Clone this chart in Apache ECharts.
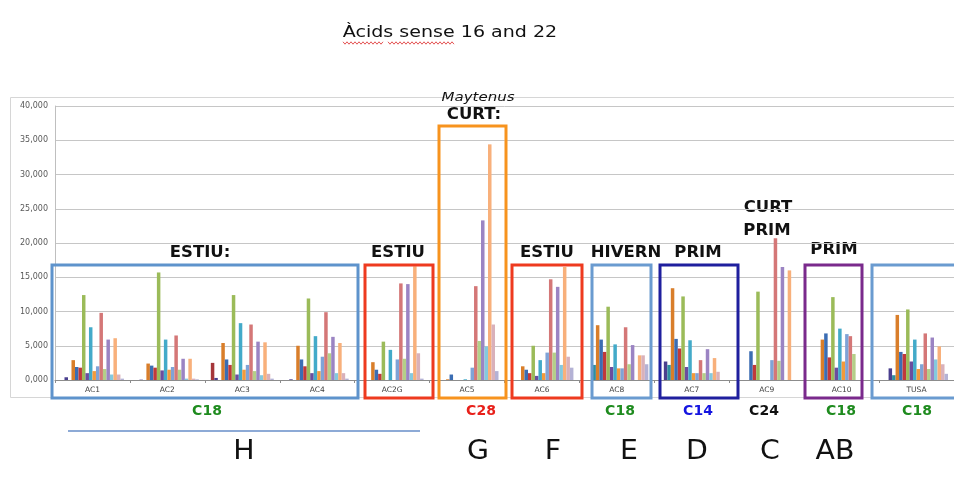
<!DOCTYPE html>
<html>
<head>
<meta charset="utf-8">
<script src="https://cdn.jsdelivr.net/npm/echarts@6/dist/echarts.min.js"></script>
<style>
html,body{margin:0;padding:0;background:#fff;}
#c{width:954px;height:481px;}
</style>
</head>
<body>
<div id="c"></div>
<script>
// ---------- DATA ----------
const categories = ['AC1','AC2','AC3','AC4','AC2G','AC5','AC6','AC8','AC7','AC9','AC10','TUSA'];
const yTickLabels = ['0,000','5,000','10,000','15,000','20,000','25,000','30,000','35,000','40,000'];

const sDarkRed    = [0,0,2500,0,0,0,0,0,0,0,0,0];
const sNavy       = [400,50,300,100,0,0,0,0,2700,0,0,1700];
const sTeal       = [0,0,0,0,0,0,0,2200,2200,0,0,700];
const sOrange     = [2900,2400,5400,5000,2600,100,2000,8000,13400,0,5900,9500];
const sBlue       = [1900,2100,3000,3000,1500,800,1500,5900,6000,4200,6800,4100];
const sRed        = [1800,1800,2200,2000,900,0,1000,4100,4600,2200,3300,3800];
const sGreen      = [12400,15700,12400,11900,5600,0,5000,10700,12200,12900,12100,10300];
const sPurple     = [1000,1400,800,1000,0,0,600,1900,1900,0,1800,2700];
const sCyan       = [7700,5900,8300,6400,4400,100,2900,5200,5800,0,7500,5900];
const sOrange2    = [1300,1500,1500,1300,0,0,1000,1700,1000,0,2700,1600];
const sLightBlue  = [2000,1900,2200,3400,3000,1800,4000,1700,1000,2900,6700,2300];
const sRose       = [9800,6500,8100,9900,14100,13700,14700,7700,2900,20700,6400,6800];
const sLightGreen = [1600,1500,1300,3900,3100,5700,4000,2300,1000,2800,3800,1600];
const sLavender   = [5900,3100,5600,6300,14000,23300,13600,5100,4500,16500,0,6200];
const sLightCyan  = [800,200,700,1000,1000,4900,2200,0,1000,0,0,3000];
const sLightOrange= [6100,3100,5500,5400,16600,34400,16500,3600,3200,16000,0,4900];
const sMauve      = [800,200,900,1000,3900,8100,3400,3600,1200,0,0,2300];
const sLightLav   = [200,100,200,200,200,1300,1800,2300,0,0,0,900];

const seriesData = [sDarkRed,sNavy,sTeal,sOrange,sBlue,sRed,sGreen,sPurple,sCyan,sOrange2,
                    sLightBlue,sRose,sLightGreen,sLavender,sLightCyan,sLightOrange,sMauve,sLightLav];

// ---------- STYLES ----------
const seriesColors = ['#A5363A','#4A3F8F','#2F8FA0','#D97E2A','#3B6DB3','#C0393B','#9BBB59','#6B4D9E','#43AAC9',
                      '#F39A3B','#7FA3D7','#D47777','#B4CF88','#9B84C3','#84C9DE','#F8B07B','#D9B1BA','#B4B2D5'];

const FONT = '"DejaVu Sans", sans-serif';

// annotation boxes (pixel overlay)
const boxes = [
  {x1:52, x2:358, y1:265, color:'#5E93CC'},
  {x1:365, x2:433, y1:265, color:'#EE3A1F'},
  {x1:439, x2:506, y1:126, color:'#F7931E'},
  {x1:512, x2:582, y1:265, color:'#EE3A1F'},
  {x1:592, x2:651, y1:265, color:'#6A9BD0'},
  {x1:660, x2:738, y1:265, color:'#1F1F9E'},
  {x1:805, x2:862, y1:265, color:'#7A2A8C'},
  {x1:872, x2:970, y1:265, color:'#6A9BD0'}
];
const boxBottom = 398;

const topLabels = [
  {t:'ESTIU:', x:200, y:253},
  {t:'ESTIU', x:398, y:253},
  {t:'CURT:', x:474, y:115},
  {t:'ESTIU', x:547, y:253},
  {t:'HIVERN', x:626, y:253},
  {t:'PRIM', x:698, y:253},
  {t:'CURT', x:768, y:208},
  {t:'PRIM', x:767, y:231},
  {t:'PRIM', x:834, y:250}
];
const chainLabels = [
  {t:'C18', x:207, c:'#1E8B1E'},
  {t:'C28', x:481, c:'#E8201A'},
  {t:'C18', x:620, c:'#1E8B1E'},
  {t:'C14', x:698, c:'#1515E0'},
  {t:'C24', x:764, c:'#111111'},
  {t:'C18', x:841, c:'#1E8B1E'},
  {t:'C18', x:917, c:'#1E8B1E'}
];
const groupLetters = [
  {t:'H', x:244}, {t:'G', x:478}, {t:'F', x:553}, {t:'E', x:629},
  {t:'D', x:697}, {t:'C', x:770}, {t:'AB', x:835}
];

function stext(text, x, y, size, opts) {
  opts = opts || {};
  return {
    type:'group', x:x, y:y, scaleX: opts.scaleX || 1, z: 100,
    children:[{
      type:'text', x:0, y:0,
      style:{
        text:text,
        fontSize:size,
        fontFamily: opts.family || FONT,
        fontWeight: opts.weight || 'normal',
        fontStyle: opts.style || 'normal',
        fill: opts.color || '#111',
        align:'center', verticalAlign:'middle',
        textAlign:'center', textVerticalAlign:'middle'
      }
    }]
  };
}

function squiggle(x1, x2, y) {
  const pts = [];
  let up = true;
  for (let x = x1; x <= x2; x += 2) { pts.push([x, y + (up ? -1.2 : 1.2)]); up = !up; }
  return {type:'polyline', z:100, shape:{points:pts}, style:{stroke:'#E04040', lineWidth:0.9, fill:null}};
}

const graphic = [];
// chart area border
graphic.push({type:'rect', z:-1, shape:{x:10.5, y:97.5, width:960, height:300}, style:{fill:null, stroke:'#D6D6D6', lineWidth:1}});
boxes.forEach(b => graphic.push({
  type:'rect', z:90,
  shape:{x:b.x1, y:b.y1, width:b.x2-b.x1, height:boxBottom-b.y1},
  style:{fill:null, stroke:b.color, lineWidth:3}
}));
// title
graphic.push(stext('Àcids sense 16 and 22', 450, 33, 15, {scaleX:1.27, color:'#111'}));
graphic.push(squiggle(343, 383, 43));
graphic.push(squiggle(388, 455, 43));
// Maytenus
graphic.push(stext('Maytenus', 478, 98, 12.5, {style:'italic', scaleX:1.2}));
topLabels.forEach(l => graphic.push(stext(l.t, l.x, l.y, 15, {weight:'bold', scaleX:1.1})));
chainLabels.forEach(l => graphic.push(stext(l.t, l.x, 411, 14, {weight:'bold', color:l.c})));
graphic.push({type:'line', z:100, shape:{x1:68, y1:431, x2:420, y2:431}, style:{stroke:'#8DAAD6', lineWidth:2}});
groupLetters.forEach(l => graphic.push(stext(l.t, l.x, 452, 27, {scaleX:1.05})));

const chart = echarts.init(document.getElementById('c'), null, {renderer:'canvas'});
chart.setOption({
  animation:false,
  backgroundColor:'#ffffff',
  grid:{left:55, top:106, width:900, height:274, containLabel:false},
  xAxis:{
    type:'category', data:categories,
    axisLine:{lineStyle:{color:'#8C8C8C', width:1}},
    axisTick:{show:true, length:3, lineStyle:{color:'#8C8C8C'}},
    axisLabel:{fontSize:7.5, color:'#404040', margin:6, fontFamily:FONT}
  },
  yAxis:{
    type:'value', min:0, max:40000, interval:5000,
    axisLine:{show:true, lineStyle:{color:'#BFBFBF'}},
    axisTick:{show:false},
    splitLine:{lineStyle:{color:'#C6C6C6', width:1}},
    axisLabel:{fontSize:8, color:'#595959', margin:7, fontFamily:FONT,
      formatter:function(v){ return yTickLabels[Math.round(v/5000)]; }}
  },
  series: seriesData.map((d,i) => ({
    type:'bar', data:d, barGap:'0%', barCategoryGap:'16%',
    itemStyle:{color:seriesColors[i]}
  })),
  graphic: graphic
});
</script>
</body>
</html>
